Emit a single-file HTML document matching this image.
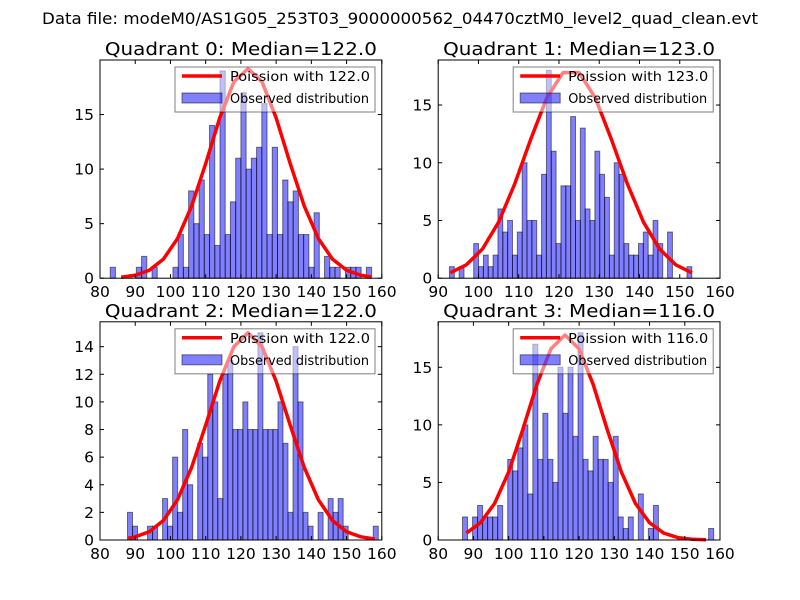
<!DOCTYPE html>
<html><head><meta charset="utf-8"><style>
html,body{margin:0;padding:0;background:#fff;}
svg{display:block;font-family:"DejaVu Sans","Liberation Sans",sans-serif;}
</style></head><body>
<svg id="fig" width="800" height="600" xmlns="http://www.w3.org/2000/svg">
<rect width="800" height="600" fill="#fff"/>
<text x="400" y="24" text-anchor="middle" font-size="16" textLength="716" lengthAdjust="spacingAndGlyphs">Data file: modeM0/AS1G05_253T03_9000000562_04470cztM0_level2_quad_clean.evt</text>
</svg>
<script>
// ---- data ----
const panelTitles = ["Quadrant 0: Median=122.0","Quadrant 1: Median=123.0","Quadrant 2: Median=122.0","Quadrant 3: Median=116.0"];
const legendLabels = ["Poission with 122.0","Poission with 123.0","Poission with 122.0","Poission with 116.0"];
const binStart = [82.9, 92.8, 87.8, 86.9];
const binWidth = [1.484, 1.204, 1.424, 1.426];
const counts0 = [1,0,0,0,0,1,2,0,1,0,0,0,1,4,1,8,5,9,4,14,3,19,4,7,11,17,10,11,12,16,4,12,4,9,7,8,4,4,1,6,0,2,1,1,0,1,1,1,0,1];
const counts1 = [1,0,1,0,0,3,1,2,1,2,6,4,5,2,4,10,5,5,2,9,18,11,3,8,8,14,5,13,6,5,11,9,7,2,10,9,3,2,2,3,4,2,5,3,0,4,0,0,0,1];
const counts2 = [2,1,0,0,1,1,0,3,1,6,2,8,4,0,7,6,12,10,3,12,13,8,8,10,8,8,15,8,8,8,10,7,2,14,10,2,1,0,2,0,3,2,3,1,0,0,0,0,0,1];
const counts3 = [2,0,2,3,2,2,2,3,0,7,6,8,10,4,17,7,11,7,5,15,11,15,9,18,7,6,9,7,7,5,9,2,1,2,0,4,0,1,3,0,0,0,0,0,0,0,0,0,0,1];
const curveX0 = [86,90,94,98,102,106,110,114,118,122,126,130,134,138,142,146,150,154,157];
const curveY0 = [0.09,0.27,0.73,1.75,3.63,6.6,10.5,14.7,18.0,19.2,18.0,14.7,10.5,6.6,3.63,1.75,0.73,0.27,0.12];
const curveX1 = [93,97,101,105,109,113,117,121,125,129,133,137,141,145,149,153];
const curveY1 = [0.47,1.16,2.53,4.85,8.16,12.05,15.64,17.81,17.81,15.64,12.05,8.16,4.85,2.53,1.16,0.47];
const curveX2 = [88,90,94,98,102,106,110,114,118,122,126,130,134,138,142,146,150,154,158];
const curveY2 = [0.13,0.23,0.6,1.41,2.91,5.25,8.31,11.5,14.0,15.0,14.0,11.5,8.31,5.25,2.91,1.41,0.6,0.23,0.07];
const curveX3 = [88,92,96,100,104,108,112,116,120,124,128,132,136,140,144,148,152,156];
const curveY3 = [0.6,1.5,3.17,5.9,9.58,13.5,16.6,17.8,16.6,13.5,9.58,5.9,3.17,1.5,0.6,0.21,0.07,0.02];
const xMin = [80,90,80,80];
const xTicks0 = [80,90,100,110,120,130,140,150,160];
const xTicks1 = [90,100,110,120,130,140,150,160];
const yMax = [20,18.9,15.8,18.95];
const yTicks0 = [0,5,10,15];
const yTicks2 = [0,2,4,6,8,10,12,14];

const counts=[counts0,counts1,counts2,counts3];
const cx=[curveX0,curveX1,curveX2,curveX3], cy=[curveY0,curveY1,curveY2,curveY3];
const xt=[xTicks0,xTicks1,xTicks0,xTicks0], yt=[yTicks0,yTicks0,yTicks2,yTicks0];
const boxes=[[100,60],[438.2,60],[100,321.8],[438.2,321.8]];
const W=281.8,H=218.2;
const NS="http://www.w3.org/2000/svg";
const svg=document.getElementById('fig');
function mk(tag,attrs,parent){const e=document.createElementNS(NS,tag);for(const k in attrs)e.setAttribute(k,attrs[k]);(parent||svg).appendChild(e);return e;}

for(let p=0;p<4;p++){
  const [L,T]=boxes[p];
  const sx=v=>L+(v-xMin[p])/(160-xMin[p])*W;
  const sy=v=>T+H-v/yMax[p]*H;
  const g=mk('g',{});
  
  
  counts[p].forEach((c,i)=>{
    if(c<=0)return;
    const x0=sx(binStart[p]+i*binWidth[p]), x1=sx(binStart[p]+(i+1)*binWidth[p]);
    const r=mk('rect',{x:x0,y:sy(c),width:x1-x0,height:sy(0)-sy(c),fill:'#0000ff','fill-opacity':0.5,stroke:'#000','stroke-opacity':0.5,'stroke-width':1},g);
    
    
  });
  const pts=cx[p].map((x,i)=>sx(x)+','+sy(cy[p][i])).join(' ');
  const pl=mk('polyline',{points:pts,fill:'none',stroke:'#ff0000','stroke-width':3.5,'stroke-linejoin':'round'},g);
  
  
  const fr=mk('rect',{x:L,y:T,width:W,height:H,fill:'none',stroke:'#000','stroke-width':1},g);
  
  
  xt[p].forEach(v=>{
    const x=sx(v);
    mk('line',{x1:x,y1:T+H,x2:x,y2:T+H-4,stroke:'#000'},g);
    mk('line',{x1:x,y1:T,x2:x,y2:T+4,stroke:'#000'},g);
    const t=mk('text',{x:x,y:T+H+19,'text-anchor':'middle','font-size':15.5},g);
    t.textContent=v;
    
    
  });
  yt[p].forEach(v=>{
    const y=sy(v);
    mk('line',{x1:L,y1:y,x2:L+4,y2:y,stroke:'#000'},g);
    mk('line',{x1:L+W,y1:y,x2:L+W-4,y2:y,stroke:'#000'},g);
    const t=mk('text',{x:L-6,y:y+5.5,'text-anchor':'end','font-size':15.5},g);
    t.textContent=v;
    
    
  });
  const tt=mk('text',{x:L+W/2,y:T-5,'text-anchor':'middle','font-size':18,textLength:272,lengthAdjust:'spacingAndGlyphs'},g);
  tt.textContent=panelTitles[p];
  
  
  const lx=L+75, ly=T+7;
  const lg=mk('g',{},g);
  
  
  mk('rect',{x:lx,y:ly,width:200,height:45,fill:'#fff','fill-opacity':0.5,stroke:'#000','stroke-opacity':0.5},lg);
  mk('line',{x1:lx+7,y1:ly+9,x2:lx+47,y2:ly+9,stroke:'#ff0000','stroke-width':3.5},lg);
  mk('rect',{x:lx+7,y:ly+26,width:40,height:10,fill:'#0000ff','fill-opacity':0.5,stroke:'#000','stroke-opacity':0.5},lg);
  const l1=mk('text',{x:lx+55,y:ly+14,'font-size':13,textLength:140,lengthAdjust:'spacingAndGlyphs'},lg);
  l1.textContent=legendLabels[p];
  
  
  const l2=mk('text',{x:lx+55,y:ly+36,'font-size':13,textLength:139,lengthAdjust:'spacingAndGlyphs'},lg);
  l2.textContent='Observed distribution';
  
  
}
</script>
</body></html>
